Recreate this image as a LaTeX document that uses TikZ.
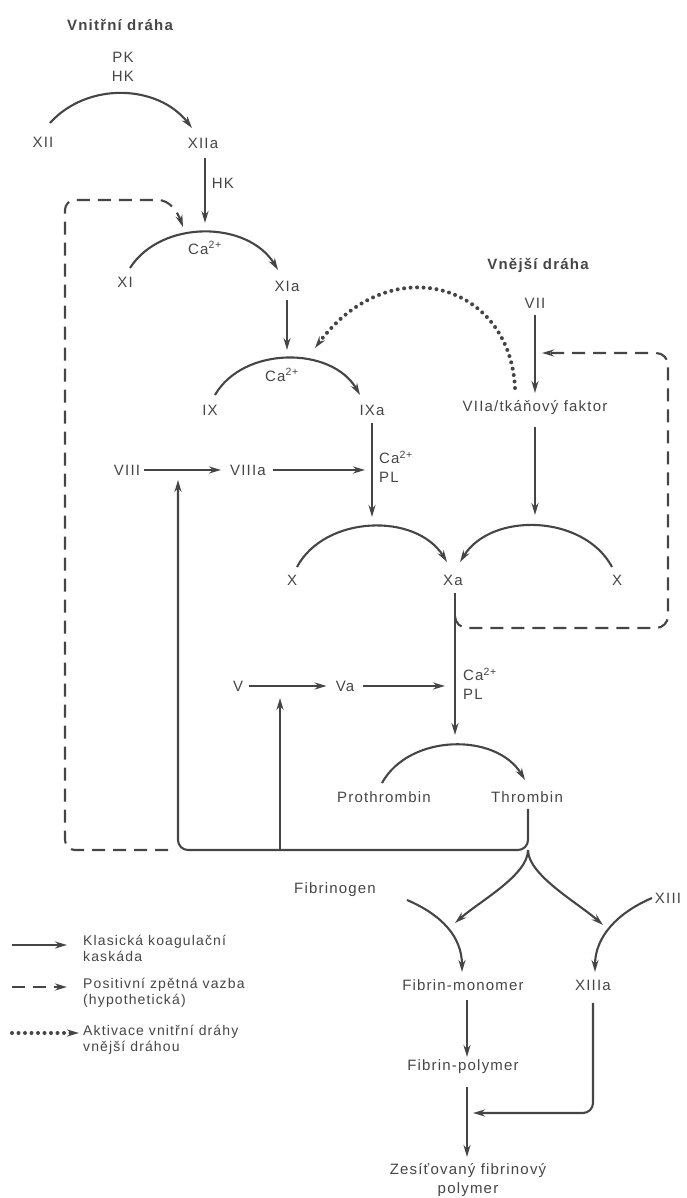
\documentclass[tikz,border=0pt]{standalone}
\usepackage{fontspec}
\setmainfont{Liberation Sans}[LetterSpace=8]
\usetikzlibrary{arrows.meta,calc}

\definecolor{ink}{gray}{0.27}
\newcommand{\lbl}{\fontsize{15}{19}\selectfont}
\newcommand{\caion}{Ca\textsuperscript{2+}}

\begin{document}
\begin{tikzpicture}[x=1pt, y=1pt,
    lab/.style={text=ink, font=\lbl, inner sep=1pt},
    head/.style={lab, font=\lbl\bfseries},
    legtxt/.style={lab, anchor=west, align=left, font=\fontsize{14}{16}\selectfont},
    cas/.style={draw=ink, line width=2.1pt, -{Stealth[length=12pt,width=7pt]}},
    fbk/.style={cas, dash pattern=on 13pt off 8pt},
    act/.style={cas, line width=4pt, line cap=round, dash pattern=on 0pt off 6.5pt}
]
\useasboundingbox (0,0) rectangle (686,1198);

% --- intrinsic pathway ---
\node[head] (intr) at (120,1173) {Vnitřní dráha};
\node[lab, align=center] (pkhk) at (123,1131) {PK\\HK};
\node[lab] (xii) at (43,1056) {XII};
\node[lab] (xiia) at (203,1055) {XIIa};
\node[lab] (hk) at (223,1015) {HK};
\node[lab] (xi) at (125,916) {XI};
\node[lab] (xia) at (287,912) {XIa};
\node[lab] (caa) at (205,950) {\caion};
\node[lab] (ix) at (210,788) {IX};
\node[lab] (ixa) at (372,788) {IXa};
\node[lab] (cab) at (282,823) {\caion};
\node[lab] (viii) at (127,728) {VIII};
\node[lab] (viiia) at (248,728) {VIIIa};
\node[lab, anchor=west, align=left] (capla) at (378,731) {\caion\\PL};

% --- extrinsic pathway ---
\node[head] (extr) at (538,933) {Vnější dráha};
\node[lab] (vii) at (535,895) {VII};
\node[lab] (viia) at (535,790) {VIIa/tkáňový faktor};

% --- common pathway ---
\node[lab] (xl) at (292,618) {X};
\node[lab] (xa) at (453,618) {Xa};
\node[lab] (xr) at (617,618) {X};
\node[lab] (v) at (238,512) {V};
\node[lab] (va) at (345,512) {Va};
\node[lab, anchor=west, align=left] (caplb) at (462,514) {\caion\\PL};
\node[lab] (proth) at (384,401) {Prothrombin};
\node[lab] (thr) at (527,401) {Thrombin};
\node[lab] (fibg) at (335,308) {Fibrinogen};
\node[lab] (xiii) at (668,300) {XIII};
\node[lab] (fmon) at (463,213) {Fibrin-monomer};
\node[lab] (xiiia) at (593,213) {XIIIa};
\node[lab] (fpol) at (463,131) {Fibrin-polymer};
\node[lab, align=center] (zes) at (468,18) {Zesíťovaný fibrinový\\polymer};

% --- legend ---
\node[legtxt] (lega) at (82,250) {Klasická koagulační\\kaskáda};
\node[legtxt] (legb) at (82,205) {Positivní zpětná vazba\\(hypothetická)};
\node[legtxt] (legc) at (82,158) {Aktivace vnitřní dráhy\\vnější dráhou};

% --- helper points ---
\coordinate (tsplit) at ($(thr)+(1,-53)$);
\coordinate (fbl) at (65,348);
\coordinate (ftl) at (65,998);

% --- cascade ---
\draw[cas] ($(xii)+(7,19)$) to[bend left=50] ($(xiia)+(-11,15)$);
\draw[cas] ($(xiia)+(2,-15)$) -- ($(caa)+(0,25)$);
\draw[cas] ($(xi)+(5,14)$) to[bend left=58] ($(xia)+(-9,16)$);
\draw[cas] ($(xia)+(0,-14)$) -- ($(xia)+(0,-64)$);
\draw[cas] ($(ix)+(5,15)$) to[bend left=60] ($(ixa)+(-12,15)$);
\draw[cas] ([xshift=3pt]viii.east) -- ([xshift=-8pt]viiia.west);
\draw[cas] ([xshift=6pt]viiia.east) -- ($(ixa)+(-7,-60)$);
\draw[cas] ($(ixa)+(0,-13)$) -- ($(ixa)+(0,-107)$);
\draw[cas] ($(vii)+(0,-12)$) -- ($(viia)+(0,15)$);
\draw[cas] ($(viia)+(0,-19)$) -- ($(viia)+(0,-107)$);
\draw[cas] ($(xl)+(5,13)$) to[bend left=60] ($(xa)+(-6,18)$);
\draw[cas] ($(xr)+(-5,13)$) to[bend right=60] ($(xa)+(7,18)$);
\draw[cas] ($(xa)+(2,-13)$) -- ($(xa)+(2,-155)$);
\draw[cas] ([xshift=5pt]v.east) -- ([xshift=-8pt]va.west);
\draw[cas] ([xshift=8pt]va.east) -- ($(xa)+(-8,-106)$);
\draw[cas] ($(proth)+(-2,14)$) to[bend left=60] ($(thr)+(-2,17)$);

% --- thrombin feedback ---
\draw[cas, rounded corners=10pt] ($(thr)+(1,-12)$) |- ($(viii)+(51,-380)$) -- ($(viii)+(51,-10)$);
\draw[cas] ($(v)+(42,-164)$) -- ($(v)+(42,-12)$);
\draw[fbk, rounded corners=10pt] ($(viii)+(41,-380)$) -- (fbl) -- (ftl) -- (148,998)
    .. controls (170,998) and (178,985) .. ($(caa)+(-22,21)$);
\draw[fbk, rounded corners=12pt] ($(xa)+(2,-36)$) |- ($(xr)+(51,-48)$) |- ($(vii)+(7,-50)$);
\draw[act] ($(viia)+(-20,20)$) .. controls (510,915) and (390,950) .. ($(cab)+(33,27)$);

% --- fibrin ---
\draw[cas] (tsplit) .. controls +(0,-25) and +(25,22) .. ($(fmon)+(-8,62)$);
\draw[cas] (tsplit) .. controls +(0,-25) and +(-25,22) .. ($(xiiia)+(10,60)$);
\draw[cas] ($(fibg)+(72,-10)$) .. controls +(35,-15) and +(0,35) .. ($(fmon)+(-1,13)$);
\draw[cas] ($(xiii)+(-16,0)$) .. controls +(-35,-15) and +(0,35) .. ($(xiiia)+(2,13)$);
\draw[cas] ($(fmon)+(4,-15)$) -- ($(fpol)+(4,10)$);
\draw[cas] ($(fpol)+(4,-20)$) -- ($(zes)+(-1,23)$);
\draw[cas, rounded corners=10pt] ($(xiiia)+(0,-18)$) |- ($(fpol)+(10,-46)$);

% --- legend arrows ---
\draw[cas] ($(lega.west)+(-70,3)$) -- ($(lega.west)+(-15,3)$);
\draw[fbk] ($(legb.west)+(-70,6)$) -- ($(legb.west)+(-15,6)$);
\draw[act] ($(legc.west)+(-70,7)$) -- ($(legc.west)+(-3,7)$);

\end{tikzpicture}
\end{document}
